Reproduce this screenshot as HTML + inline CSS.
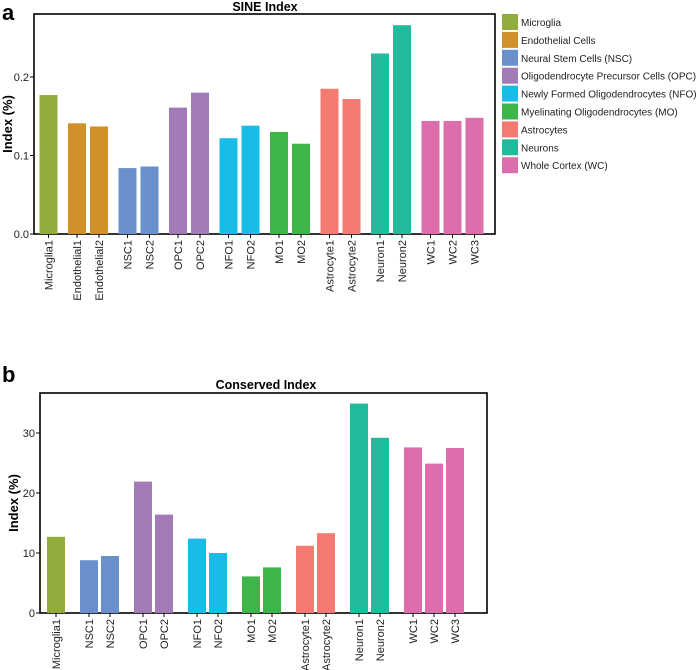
<!DOCTYPE html>
<html><head><meta charset="utf-8"><style>
body{margin:0;background:#fff;}
svg{display:block;font-family:"Liberation Sans",Arial,sans-serif;}
</style></head><body>
<svg id="fig" width="697" height="670" viewBox="0 0 697 670" xmlns="http://www.w3.org/2000/svg">
<text x="2" y="20" font-size="22" font-weight="bold">a</text>
<text x="265" y="11" font-size="12.5" font-weight="bold" text-anchor="middle">SINE Index</text>
<text x="2" y="382" font-size="22" font-weight="bold">b</text>
<text x="266" y="389" font-size="12.5" font-weight="bold" text-anchor="middle">Conserved Index</text>
<g id="ca"></g>
<g id="cb"></g>
<g id="legend"></g>
</svg>
<script>
const colors = {Microglia:"#8fac3c",Endothelial:"#d1902a",NSC:"#6a90cc",OPC:"#a27ab8",NFO:"#17bde6",MO:"#3cb54a",Astrocyte:"#f47a72",Neuron:"#21bb9c",WC:"#dc6fab"};
const legendLabels = ["Microglia","Endothelial Cells","Neural Stem Cells (NSC)","Oligodendrocyte Precursor Cells (OPC)","Newly Formed Oligodendrocytes (NFO)","Myelinating Oligodendrocytes (MO)","Astrocytes","Neurons","Whole Cortex (WC)"];
const legendKeys = ["Microglia","Endothelial","NSC","OPC","NFO","MO","Astrocyte","Neuron","WC"];

const catsA = ["Microglia1","Endothelial1","Endothelial2","NSC1","NSC2","OPC1","OPC2","NFO1","NFO2","MO1","MO2","Astrocyte1","Astrocyte2","Neuron1","Neuron2","WC1","WC2","WC3"];
const valsA = [0.177,0.141,0.137,0.084,0.086,0.161,0.180,0.122,0.138,0.130,0.115,0.185,0.172,0.230,0.266,0.144,0.144,0.148];
const ticksA = [0,0.1,0.2];
const tickLabelsA = ["0.0","0.1","0.2"];

const catsB = ["Microglia1","NSC1","NSC2","OPC1","OPC2","NFO1","NFO2","MO1","MO2","Astrocyte1","Astrocyte2","Neuron1","Neuron2","WC1","WC2","WC3"];
const valsB = [12.7,8.8,9.5,21.9,16.4,12.4,10.0,6.1,7.6,11.2,13.3,34.9,29.2,27.6,24.9,27.5];
const ticksB = [0,10,20,30];
const tickLabelsB = ["0","10","20","30"];

const NS="http://www.w3.org/2000/svg";
function mk(tag,attrs,parent){const e=document.createElementNS(NS,tag);for(const k in attrs)e.setAttribute(k,attrs[k]);parent.appendChild(e);return e;}
function groupOf(c){return c.replace(/\d+$/,"");}

function draw(g,cats,vals,ticks,tlabels,cfg){
  const y=v=>cfg.base-(v/cfg.unit)*cfg.pxPerUnit;
  const box=mk("rect",{x:cfg.left,y:cfg.top,width:cfg.right-cfg.left,height:cfg.base-cfg.top,fill:"none",stroke:"#000","stroke-width":1.6},g);
  
  
  ticks.forEach((t,i)=>{
    const ty=y(t);
    const tk=mk("line",{x1:cfg.left-4,x2:cfg.left,y1:ty,y2:ty,stroke:"#000","stroke-width":1},g);
    
    
    const tl=mk("text",{x:cfg.left-5,y:ty+4,"font-size":11,"text-anchor":"end",fill:"#222"},g);
    tl.textContent=tlabels[i];
    
    
  });
  const yt=mk("text",{transform:`translate(${cfg.left-22},${(cfg.top+cfg.base)/2}) rotate(-90)`,"font-size":13,"font-weight":"bold","text-anchor":"middle"},g);
  yt.textContent="Index (%)";
  
  
  let gi=0,prev=null;
  cats.forEach((c,i)=>{
    const grp=groupOf(c);
    if(prev!==null&&grp!==prev)gi++;
    prev=grp;
    const cx=cfg.start+i*cfg.slot+gi*cfg.gap;
    const top=y(vals[i]);
    const b=mk("rect",{x:cx-cfg.bw/2,y:top,width:cfg.bw,height:cfg.base-top,fill:colors[grp]},g);
    
    
    const tk=mk("line",{x1:cx,x2:cx,y1:cfg.base,y2:cfg.base+4,stroke:"#000","stroke-width":1},g);
    
    
    const lb=mk("text",{transform:`translate(${cx+4},${cfg.base+6}) rotate(-90)`,"font-size":11,"text-anchor":"end",fill:"#222"},g);
    lb.textContent=c;
    
    
  });
}
draw(document.getElementById("ca"),catsA,valsA,ticksA,tickLabelsA,{left:34,right:495,top:14,base:234,unit:0.1,pxPerUnit:78.5,start:48.5,slot:22,gap:6.5,bw:18});
draw(document.getElementById("cb"),catsB,valsB,ticksB,tickLabelsB,{left:40,right:487,top:393,base:613,unit:10,pxPerUnit:60,start:56,slot:21,gap:12,bw:18});

const lg=document.getElementById("legend");
legendLabels.forEach((l,i)=>{
  const yy=14+i*17.9;
  const s=mk("rect",{x:502,y:yy,width:16,height:16,fill:colors[legendKeys[i]]},lg);
  
  
  const t=mk("text",{x:521,y:yy+12,"font-size":10,fill:"#222"},lg);
  t.textContent=l;
  
  
});
</script>
</body></html>
